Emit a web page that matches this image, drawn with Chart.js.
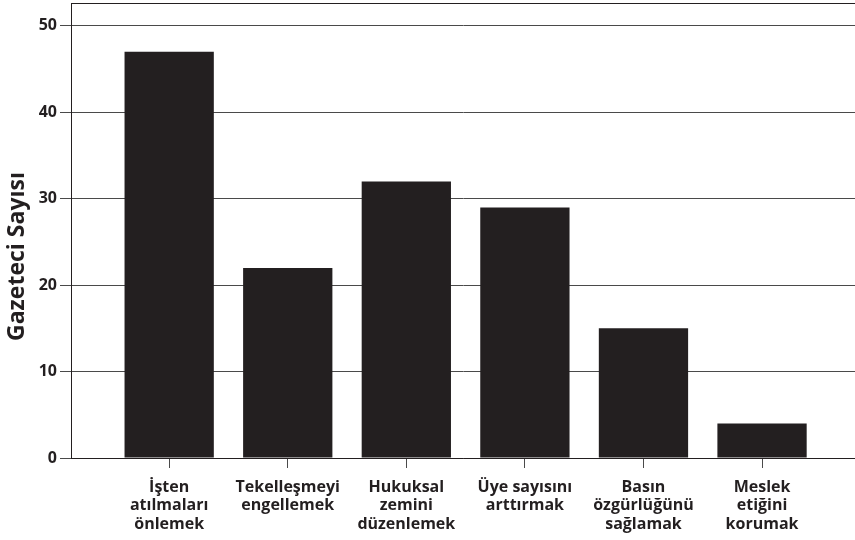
<!DOCTYPE html>
<html>
<head>
<meta charset="utf-8">
<script src="https://cdn.jsdelivr.net/npm/chart.js@4.4.1/dist/chart.umd.min.js"></script>
<style>
  html, body { margin: 0; padding: 0; background: #fff; }
  #wrap { width: 855px; height: 540px; }
</style>
</head>
<body>
<div id="wrap"><canvas id="barChart"></canvas></div>
<script>
// --- data ---
const categories = [
    ['İşten', 'atılmaları', 'önlemek'],
    ['Tekelleşmeyi', 'engellemek'],
    ['Hukuksal', 'zemini', 'düzenlemek'],
    ['Üye sayısını', 'arttırmak'],
    ['Basın', 'özgürlüğünü', 'sağlamak'],
    ['Meslek', 'etiğini', 'korumak']
];
const values = [47, 22, 32, 29, 15, 4];
const yTicks = [0, 10, 20, 30, 40, 50];
const yTitle = 'Gazeteci Sayısı';

const ink = '#231f20';
const gridColor = '#4a4a4a';

Chart.defaults.font.family = '"Open Sans", "DejaVu Sans", sans-serif';
Chart.defaults.color = ink;

// top edge of the plot frame + the y axis title (sits a bit below centre in the original)
const frameAndTitle = {
    id: 'frameAndTitle',
    afterDraw(chart) {
        const { ctx, chartArea } = chart;
        ctx.save();
        ctx.strokeStyle = ink;
        ctx.lineWidth = 1;
        ctx.beginPath();
        ctx.moveTo(chartArea.left, chartArea.top + 0.5);
        ctx.lineTo(chartArea.right, chartArea.top + 0.5);
        ctx.stroke();

        ctx.translate(17, (chartArea.top + chartArea.bottom) / 2 + 26);
        ctx.rotate(-Math.PI / 2);
        ctx.fillStyle = ink;
        ctx.font = 'bold 23px "Open Sans", "DejaVu Sans", sans-serif';
        ctx.textAlign = 'center';
        ctx.textBaseline = 'middle';
        ctx.fillText(yTitle, 0, 0);
        ctx.restore();
    }
};

new Chart(document.getElementById('barChart'), {
    type: 'bar',
    data: {
        datasets: [{
            data: values.map((v, i) => ({ x: i + 1, y: v })),
            backgroundColor: ink,
            borderWidth: 0,
            categoryPercentage: 1,
            barPercentage: 0.753
        }]
    },
    options: {
        responsive: true,
        maintainAspectRatio: false,
        animation: false,
        layout: { padding: { top: 3, right: 0, left: 0, bottom: 0 } },
        plugins: { legend: { display: false }, tooltip: { enabled: false } },
        scales: {
            x: {
                type: 'linear',
                offset: false,
                min: 0.172,
                max: 6.784,
                afterBuildTicks: (scale) => {
                    scale.ticks = categories.map((c, i) => ({ value: i + 1 }));
                },
                afterFit: (scale) => {
                    scale.height = 82;
                    scale.paddingLeft = 0;
                    scale.paddingRight = 0;
                },
                grid: { offset: false, drawOnChartArea: false, drawTicks: true, tickLength: 10, color: gridColor },
                border: { display: true, color: ink, width: 1 },
                ticks: {
                    maxRotation: 0,
                    autoSkip: false,
                    padding: 10,
                    color: ink,
                    font: { size: 16, weight: 'bold', lineHeight: 1.16 },
                    callback: (v) => categories[v - 1]
                }
            },
            y: {
                min: 0,
                max: 52.65,
                afterBuildTicks: (scale) => {
                    scale.ticks = yTicks.map(v => ({ value: v }));
                },
                afterFit: (scale) => {
                    scale.width = 71;
                    scale.paddingTop = 0;
                    scale.paddingBottom = 0;
                },
                grid: { color: gridColor, lineWidth: 1, tickLength: 11 },
                border: { display: true, color: ink, width: 1 },
                ticks: {
                    padding: 3,
                    color: ink,
                    font: { size: 16, weight: 'bold' }
                }
            }
        }
    },
    plugins: [frameAndTitle]
});
</script>
</body>
</html>
